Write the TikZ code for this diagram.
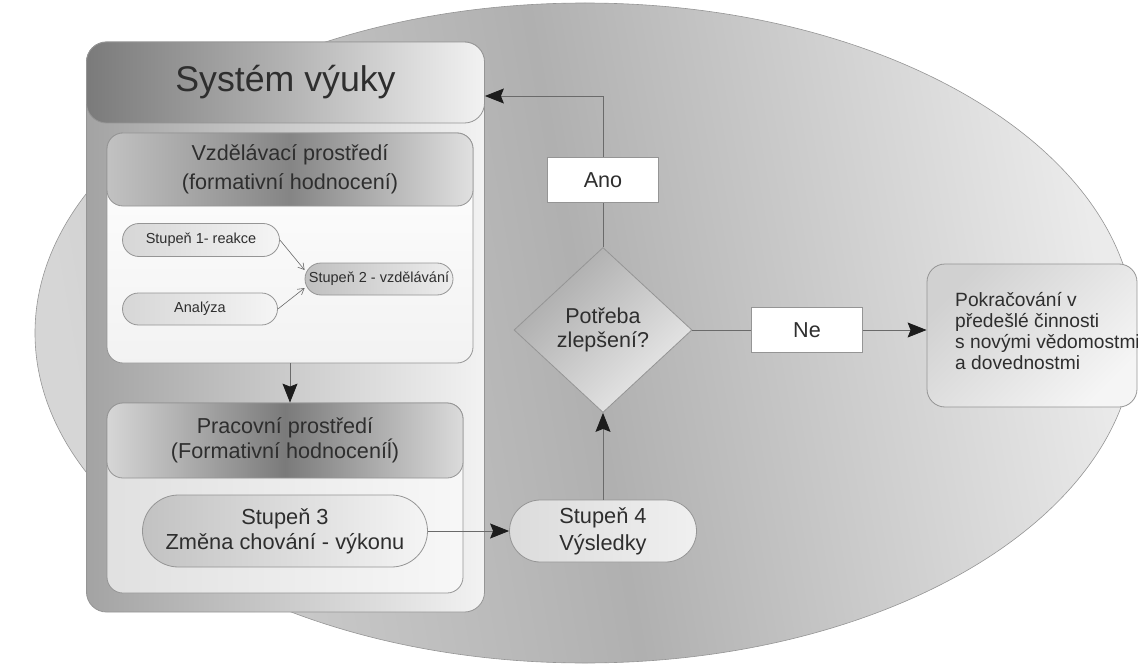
\documentclass[tikz,border=0pt]{standalone}
\usepackage{fontspec}
\setmainfont{Liberation Sans}
\usetikzlibrary{shapes.geometric,arrows.meta}
\definecolor{txt}{HTML}{2E2E2E}
\definecolor{ln}{HTML}{6A6A6A}
\definecolor{edge}{HTML}{959595}
\definecolor{tip}{HTML}{1C1C1C}

\begin{document}
\begin{tikzpicture}[x=1pt,y=-1pt,
  box/.style={draw=edge,line width=0.8pt,rounded corners=#1,text=txt,inner sep=0pt,align=center},
  small/.style={font=\fontsize{14.5}{17}\selectfont},
  big/.style={font=\fontsize{21.6}{26}\selectfont},
  arr/.style={draw=ln,line width=0.9pt,-{Stealth[length=19pt,width=15pt,inset=3pt,color=tip]}},
  thinarr/.style={draw=ln,line width=0.6pt,-{Straight Barb[length=6pt,width=7pt]}},
  plain/.style={draw=ln,line width=0.9pt},
  label box/.style={draw=edge,line width=0.8pt,fill=white,text=txt,minimum width=111pt,minimum height=45pt,big}]
\useasboundingbox (0,0) rectangle (1138,666);
\path[draw=edge,line width=0.6pt,left color=black!16,right color=black!8,middle color=black!31,shading angle=100] (585,333) ellipse [x radius=550,y radius=330];

\node[box=20pt,minimum width=398pt,minimum height=570pt,left color=black!36,right color=black!5] (sys) at (285.5,327) {};
\node[box=20pt,minimum width=398pt,minimum height=81pt,left color=black!52,right color=black!5,middle color=black!30,font=\fontsize{35.7}{40}\selectfont] (hdr) at (285.5,82.5) {Systém výuky};

\node[box=16pt,minimum width=366pt,minimum height=230pt,top color=white,bottom color=black!5] (vzd) at (290,248) {};
\node[box=16pt,minimum width=366pt,minimum height=73pt,left color=black!24,right color=black!12,middle color=black!48,font=\fontsize{21.6}{29}\selectfont] (vzdh) at (290,169.5) {Vzdělávací prostředí\\(formativní hodnocení)};
\node[box=16.5pt,minimum width=157pt,minimum height=33pt,left color=black!16,right color=black!4,small] (st1) at (201,240) {Stupeň 1- reakce};
\node[box=16pt,minimum width=155pt,minimum height=32pt,left color=black!16,right color=black!4,small] (an) at (200,309) {Analýza};
\node[box=16pt,minimum width=148pt,minimum height=32pt,left color=black!25,right color=black!7,small] (st2) at (379,279) {Stupeň 2 - vzdělávání};

\node[box=16pt,minimum width=356pt,minimum height=190pt,left color=black!12,right color=black!3] (prac) at (285,498) {};
\node[box=16pt,minimum width=356pt,minimum height=75pt,left color=black!16,right color=black!14,middle color=black!52,font=\fontsize{21.6}{25}\selectfont] (prach) at (285,440.5) {Pracovní prostředí\\(Formativní hodnoceníĺ)};
\node[box=36pt,minimum width=285pt,minimum height=72pt,left color=black!24,right color=black!4,font=\fontsize{21.8}{25}\selectfont] (st3) at (285,531) {Stupeň 3\\Změna chování - výkonu};

\node[box=31pt,minimum width=187pt,minimum height=62pt,left color=black!14,right color=black!6,font=\fontsize{21.8}{27}\selectfont] (st4) at (603,531) {Stupeň 4\\Výsledky};
\node[diamond,draw=edge,line width=0.8pt,inner sep=0pt,minimum width=178pt,minimum height=165pt,top color=black!34,bottom color=black!8,shading angle=45,text=txt,align=center,font=\fontsize{21.5}{24}\selectfont] (dec) at (603,330) {Potřeba\\zlepšení?};
\node[label box] (ano) at (603,180) {Ano};
\node[label box] (ne) at (807,330) {Ne};

\node[box=18pt,minimum width=210pt,minimum height=143pt,top color=black!18,bottom color=black!4,shading angle=45] (pok) at (1032,335.5) {};
\node[anchor=west,align=left,inner sep=0pt,text=txt,font=\fontsize{19.2}{21}\selectfont] (poktext) at (955,331.5) {Pokračování v\\předešlé činnosti\\s novými vědomostmi\\a dovednostmi};

\draw[thinarr] (st1.east) -- ([yshift=9pt]st2.west);
\draw[thinarr] (an.east) -- ([yshift=-9pt]st2.west);
\draw[arr] (vzd.south) -- (vzd.south |- prach.north);
\draw[arr] (st3.east) -- (st4.west);
\draw[arr] (st4.north) -- (dec.south);
\draw[plain] (dec.north) -- (ano.south);
\draw[arr] (ano.north) |- ([yshift=-13.5pt]hdr.east);
\draw[plain] (dec.east) -- (ne.west);
\draw[arr] (ne.east) -- (ne.east -| pok.west);
\end{tikzpicture}
\end{document}
